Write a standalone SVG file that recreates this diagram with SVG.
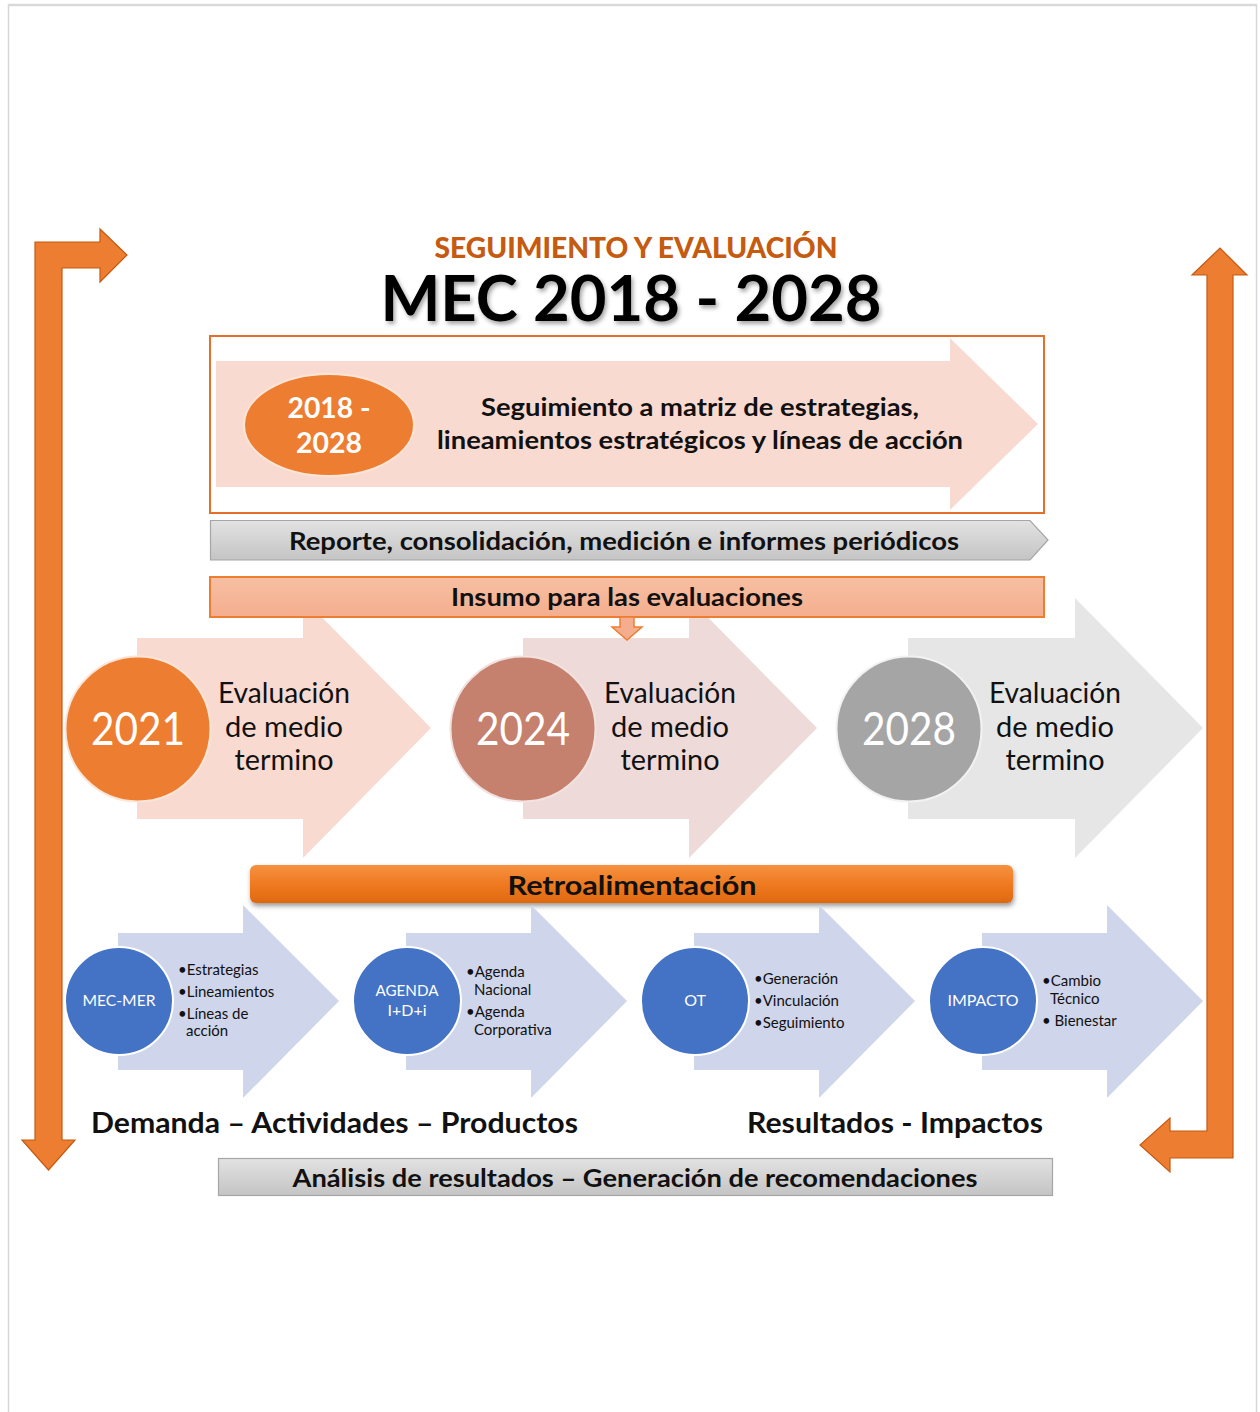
<svg xmlns="http://www.w3.org/2000/svg" width="1260" height="1412" viewBox="0 0 1260 1412">
  <style>
    .t { font-family: Lato, "Open Sans", "Liberation Sans", sans-serif; }
    .b { font-weight: bold; }
    .blk { fill: #111111; }
    .wht { fill: #ffffff; }
    .loop { fill: #ED7D31; stroke: #C55A11; stroke-width: 1.2; }
    .pinkArrow { fill: #F9DAD0; }
    .blueArrow { fill: #CFD5EA; }
    .blueDot { fill: #4472C4; stroke: #ffffff; stroke-width: 2; }
    .bul { font-size: 15px; }
    .lbl { font-size: 16px; }
    .eval { font-size: 28px; }
    .year { font-size: 46px; }
  </style>
  <defs>
    <linearGradient id="grayBar" x1="0" y1="0" x2="0" y2="1">
      <stop offset="0" stop-color="#E2E2E2"/>
      <stop offset="1" stop-color="#C4C4C4"/>
    </linearGradient>
    <linearGradient id="salmonBar" x1="0" y1="0" x2="0" y2="1">
      <stop offset="0" stop-color="#F7BFA2"/>
      <stop offset="1" stop-color="#F4AE8E"/>
    </linearGradient>
    <linearGradient id="orangeBar" x1="0" y1="0" x2="0" y2="1">
      <stop offset="0" stop-color="#F5913F"/>
      <stop offset="0.5" stop-color="#EF7A22"/>
      <stop offset="1" stop-color="#E0680F"/>
    </linearGradient>
    <filter id="titleShadow" x="-5%" y="-20%" width="110%" height="140%">
      <feDropShadow dx="2" dy="3" stdDeviation="2" flood-color="#000000" flood-opacity="0.35"/>
    </filter>
    <filter id="barShadow" x="-5%" y="-30%" width="110%" height="170%">
      <feDropShadow dx="1" dy="3" stdDeviation="2.5" flood-color="#000000" flood-opacity="0.4"/>
    </filter>
  </defs>

  <!-- page frame -->
  <rect x="0" y="0" width="1260" height="1412" fill="#ffffff"/>
  <path d="M8.5,1412 V5 H1256.5 V1412" fill="none" stroke="#D6D6D6" stroke-width="1.5"/>
  <line x1="8" y1="5" x2="1257" y2="5" stroke="#D9D9D9" stroke-width="2.5"/>

  <!-- heading -->
  <g id="heading">
    <text class="t" x="636" y="258" font-size="29" font-weight="900" fill="#C55A11" text-anchor="middle" textLength="403" lengthAdjust="spacingAndGlyphs">SEGUIMIENTO Y EVALUACIÓN</text>
    <text class="t b" x="631" y="321" font-size="64" fill="#000000" text-anchor="middle" textLength="501" lengthAdjust="spacingAndGlyphs" filter="url(#titleShadow)">MEC 2018 - 2028</text>
  </g>

  <!-- follow-up of the strategy matrix -->
  <g id="seguimiento">
    <rect x="210" y="336" width="834" height="177" fill="#ffffff" stroke="#E2702A" stroke-width="2"/>
    <path class="pinkArrow" d="M216,361 H950 V338 L1038,424 L950,510 V487 H216 Z"/>
    <ellipse cx="329" cy="425" rx="85" ry="51" fill="#ED7D31" stroke="#FBE5D6" stroke-width="2"/>
    <text class="t b wht" x="329" y="418" font-size="28" text-anchor="middle" textLength="83" lengthAdjust="spacingAndGlyphs">2018 -</text>
    <text class="t b wht" x="329" y="453" font-size="28" text-anchor="middle" textLength="66" lengthAdjust="spacingAndGlyphs">2028</text>
    <text class="t b blk" x="700" y="416" font-size="24" text-anchor="middle" textLength="438" lengthAdjust="spacingAndGlyphs">Seguimiento a matriz de estrategias,</text>
    <text class="t b blk" x="700" y="449" font-size="24" text-anchor="middle" textLength="526" lengthAdjust="spacingAndGlyphs">lineamientos estratégicos y líneas de acción</text>
  </g>

  <!-- periodic reporting -->
  <g id="reporte">
    <path d="M210.5,520.5 H1030 L1048,540 L1030,560 H210.5 Z" fill="url(#grayBar)" stroke="#A6A6A6" stroke-width="1.2"/>
    <text class="t b blk" x="624" y="550" font-size="25" text-anchor="middle" textLength="670" lengthAdjust="spacingAndGlyphs">Reporte, consolidación, medición e informes periódicos</text>
  </g>

  <!-- mid-term evaluations -->
  <g id="eval-2021">
    <path class="pinkArrow" d="M137,638 H303 V598 L431,728 L303,858 V819 H137 Z"/>
    <circle cx="138" cy="729" r="72.5" fill="#ED7D31" stroke="#FBE5D6" stroke-width="2"/>
    <text class="t wht year" x="138" y="745" text-anchor="middle" textLength="94" lengthAdjust="spacingAndGlyphs">2021</text>
    <text class="t blk eval" x="284" y="703" text-anchor="middle" textLength="132" lengthAdjust="spacingAndGlyphs">Evaluación</text>
    <text class="t blk eval" x="284" y="737" text-anchor="middle" textLength="118" lengthAdjust="spacingAndGlyphs">de medio</text>
    <text class="t blk eval" x="284" y="770" text-anchor="middle" textLength="99" lengthAdjust="spacingAndGlyphs">termino</text>
  </g>
  <g id="eval-2024">
    <path d="M523,638 H689 V598 L817,728 L689,858 V819 H523 Z" fill="#EEDBD9"/>
    <circle cx="523" cy="729" r="72.5" fill="#C5806E" stroke="#F2E2DF" stroke-width="2"/>
    <text class="t wht year" x="523" y="745" text-anchor="middle" textLength="94" lengthAdjust="spacingAndGlyphs">2024</text>
    <text class="t blk eval" x="670" y="703" text-anchor="middle" textLength="132" lengthAdjust="spacingAndGlyphs">Evaluación</text>
    <text class="t blk eval" x="670" y="737" text-anchor="middle" textLength="118" lengthAdjust="spacingAndGlyphs">de medio</text>
    <text class="t blk eval" x="670" y="770" text-anchor="middle" textLength="99" lengthAdjust="spacingAndGlyphs">termino</text>
  </g>
  <g id="eval-2028">
    <path d="M908,638 H1075 V598 L1203,728 L1075,858 V819 H908 Z" fill="#E6E6E6"/>
    <circle cx="909" cy="729" r="72.5" fill="#A5A5A5" stroke="#F2F2F2" stroke-width="2"/>
    <text class="t wht year" x="909" y="745" text-anchor="middle" textLength="94" lengthAdjust="spacingAndGlyphs">2028</text>
    <text class="t blk eval" x="1055" y="703" text-anchor="middle" textLength="132" lengthAdjust="spacingAndGlyphs">Evaluación</text>
    <text class="t blk eval" x="1055" y="737" text-anchor="middle" textLength="118" lengthAdjust="spacingAndGlyphs">de medio</text>
    <text class="t blk eval" x="1055" y="770" text-anchor="middle" textLength="99" lengthAdjust="spacingAndGlyphs">termino</text>
  </g>

  <!-- input for the evaluations (drawn over the arrow heads) -->
  <g id="insumo">
    <rect x="210" y="577" width="834" height="40" fill="url(#salmonBar)" stroke="#ED7D31" stroke-width="2"/>
    <text class="t b blk" x="627" y="606" font-size="24" text-anchor="middle" textLength="352" lengthAdjust="spacingAndGlyphs">Insumo para las evaluaciones</text>
  </g>

  <!-- feedback bar -->
  <g id="retroalimentacion">
    <rect x="250" y="865" width="763" height="38" rx="6" fill="url(#orangeBar)" filter="url(#barShadow)"/>
    <text class="t b blk" x="632" y="895" font-size="27" text-anchor="middle" textLength="249" lengthAdjust="spacingAndGlyphs">Retroalimentación</text>
  </g>

  <!-- value chain -->
  <g id="mec-mer">
    <path class="blueArrow" d="M118,933 H243 V905 L339,1001 L243,1098 V1070 H118 Z"/>
    <circle class="blueDot" cx="119" cy="1001" r="54"/>
    <text class="t wht lbl" x="119" y="1006" text-anchor="middle" textLength="73" lengthAdjust="spacingAndGlyphs">MEC-MER</text>
    <text class="t blk bul" x="178" y="975">•Estrategias</text>
    <text class="t blk bul" x="178" y="997">•Lineamientos</text>
    <text class="t blk bul" x="178" y="1019">•Líneas de</text>
    <text class="t blk bul" x="186" y="1036">acción</text>
  </g>
  <g id="agenda">
    <path class="blueArrow" d="M406,933 H531 V905 L627,1001 L531,1098 V1070 H406 Z"/>
    <circle class="blueDot" cx="407" cy="1001" r="54"/>
    <text class="t wht lbl" x="407" y="996" text-anchor="middle" textLength="63" lengthAdjust="spacingAndGlyphs">AGENDA</text>
    <text class="t wht lbl" x="407" y="1016" text-anchor="middle">I+D+i</text>
    <text class="t blk bul" x="466" y="977">•Agenda</text>
    <text class="t blk bul" x="474" y="995">Nacional</text>
    <text class="t blk bul" x="466" y="1017">•Agenda</text>
    <text class="t blk bul" x="474" y="1035">Corporativa</text>
  </g>
  <g id="ot">
    <path class="blueArrow" d="M694,933 H819 V905 L915,1001 L819,1098 V1070 H694 Z"/>
    <circle class="blueDot" cx="695" cy="1001" r="54"/>
    <text class="t wht lbl" x="695" y="1006" text-anchor="middle">OT</text>
    <text class="t blk bul" x="754" y="984">•Generación</text>
    <text class="t blk bul" x="754" y="1006">•Vinculación</text>
    <text class="t blk bul" x="754" y="1028">•Seguimiento</text>
  </g>
  <g id="impacto">
    <path class="blueArrow" d="M982,933 H1107 V905 L1203,1001 L1107,1098 V1070 H982 Z"/>
    <circle class="blueDot" cx="983" cy="1001" r="54"/>
    <text class="t wht lbl" x="983" y="1006" text-anchor="middle" textLength="71" lengthAdjust="spacingAndGlyphs">IMPACTO</text>
    <text class="t blk bul" x="1042" y="986">•Cambio</text>
    <text class="t blk bul" x="1050" y="1004">Técnico</text>
    <text class="t blk bul" x="1042" y="1026">• Bienestar</text>
  </g>

  <!-- chain captions -->
  <g id="captions">
    <text class="t b blk" x="91" y="1133" font-size="28" textLength="487" lengthAdjust="spacingAndGlyphs">Demanda – Actividades – Productos</text>
    <text class="t b blk" x="747" y="1133" font-size="28" textLength="296" lengthAdjust="spacingAndGlyphs">Resultados - Impactos</text>
  </g>

  <!-- analysis of results -->
  <g id="analisis">
    <rect x="218.5" y="1158.5" width="834" height="37" fill="url(#grayBar)" stroke="#A6A6A6" stroke-width="1.2"/>
    <text class="t b blk" x="635" y="1187" font-size="25" text-anchor="middle" textLength="685" lengthAdjust="spacingAndGlyphs">Análisis de resultados – Generación de recomendaciones</text>
  </g>

  <!-- connectors: cycle arrows and the input arrow -->
  <g id="connectors">
    <path class="loop" d="M35,1140 V242 H100 V229 L127,255 L100,282 V268 H62 V1140 H75 L48.5,1170 L22,1140 Z"/>
    <path class="loop" d="M1207,275 H1192 L1220,248 L1247,275 H1233 V1158 H1170 V1172 L1140,1145 L1170,1118 V1131 H1207 Z"/>
    <path d="M620,617 H634 V627 H642 L627,640 L612,627 H620 Z" fill="#F4AE8E" stroke="#ED7D31" stroke-width="1.5"/>
  </g>
</svg>
